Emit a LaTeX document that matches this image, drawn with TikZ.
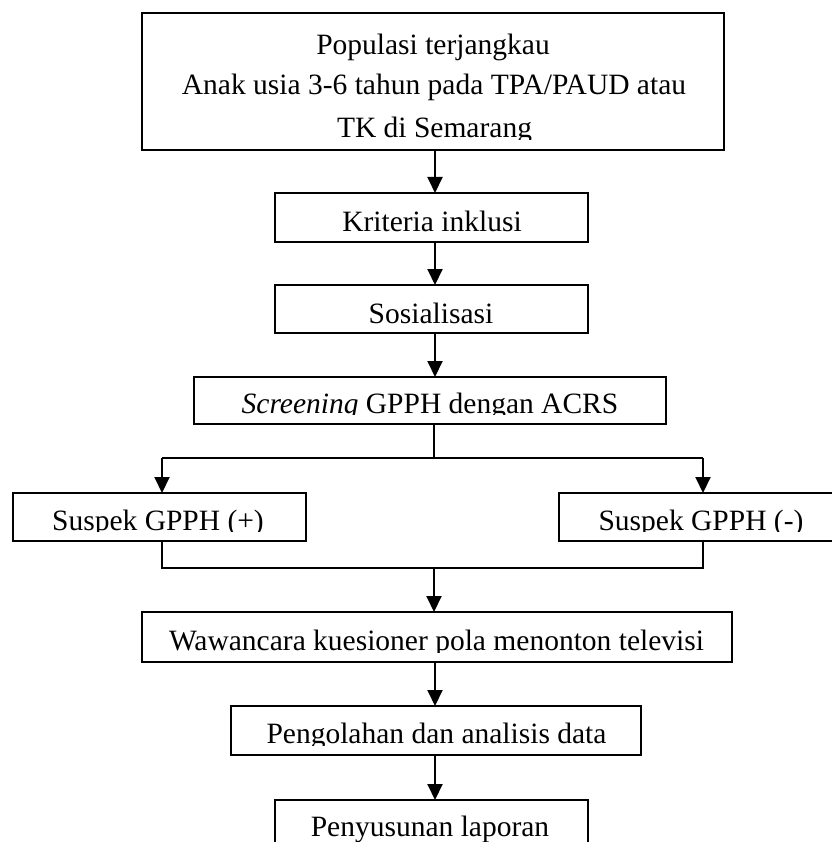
\documentclass[tikz,border=0pt]{standalone}
\usepackage{fontspec}
\setmainfont{Liberation Serif}
\usetikzlibrary{arrows.meta}
\tikzset{
  boxnode/.style={draw=black, line width=1.6pt, inner sep=0pt, outer sep=0pt},
  txt/.style={inner sep=0pt, outer sep=0pt, anchor=base, font=\fontsize{29.5}{35}\selectfont},
  conn/.style={draw=black, line width=2pt},
  thinconn/.style={draw=black, line width=1.3pt},
  arr/.style={conn, -{Triangle[length=16pt,width=15pt]}}
}
\begin{document}
\begin{tikzpicture}[x=1pt,y=-1pt]
\fill[white] (0,0) rectangle (831,842);
\useasboundingbox (0,0) rectangle (831,842);

% boxes
\node[boxnode, minimum width=582pt, minimum height=137pt] (pop) at (433,81.5) {};
\node[boxnode, minimum width=313pt, minimum height=49pt] (krit) at (431.5,217.5) {};
\node[boxnode, minimum width=313pt, minimum height=48pt] (sos) at (431.5,309) {};
\node[boxnode, minimum width=472pt, minimum height=47pt] (scr) at (430,400.5) {};
\node[boxnode, minimum width=293pt, minimum height=48pt] (sp) at (159.5,517) {};
\node[boxnode, minimum width=275pt, minimum height=48pt] (sn) at (696.5,517) {};
\node[boxnode, minimum width=590pt, minimum height=50pt] (waw) at (437,637) {};
\node[boxnode, minimum width=410pt, minimum height=49pt] (peng) at (436,730.5) {};
\node[boxnode, minimum width=313pt, minimum height=46pt] (peny) at (431.5,823) {};

% texts (clipped like the original text boxes)
\begin{scope}
  \clip (142,13) rectangle (724,139.5);
  \node[txt] (t1) at (433,54.5) {Populasi terjangkau};
  \node[txt] (t2) at (434,94.3) {Anak usia 3-6 tahun pada TPA/PAUD atau};
  \node[txt] (t3) at (434.5,137.7) {TK di Semarang};
\end{scope}
\node[txt] (t4) at (432,231.8) {Kriteria inklusi};
\node[txt] (t5) at (431,323) {Sosialisasi};
\begin{scope}
  \clip (194,377) rectangle (666,414.8);
  \node[txt] (t6) at (430,413) {\textit{Screening} GPPH dengan ACRS};
\end{scope}
\begin{scope}
  \clip (13,493) rectangle (306,531.5);
  \node[txt] (t7) at (158,530) {Suspek GPPH (+)};
\end{scope}
\begin{scope}
  \clip (559,493) rectangle (834,531.5);
  \node[txt] (t8) at (701,530) {Suspek GPPH (-)};
\end{scope}
\begin{scope}
  \clip (142,612) rectangle (732,652);
  \node[txt] (t9) at (436.5,650) {Wawancara kuesioner pola menonton televisi};
\end{scope}
\begin{scope}
  \clip (231,706) rectangle (641,745);
  \node[txt] (t10) at (436.5,743.2) {Pengolahan dan analisis data};
\end{scope}
\node[txt] (t11) at (430,836.8) {Penyusunan laporan};

% connector geometry
\coordinate (sx) at (435,0);
\coordinate (jL) at (162,458);
\coordinate (jR) at (703,458);
\coordinate (mL) at (162,568);
\coordinate (mR) at (703,568);
\coordinate (jC) at (434,458);
\coordinate (mC) at (434,568);

\draw[arr] (pop.south -| sx) -- (krit.north -| sx);
\draw[arr] (krit.south -| sx) -- (sos.north -| sx);
\draw[arr] (sos.south -| sx) -- (scr.north -| sx);
\draw[thinconn] (scr.south -| jC) -- (jC);
\draw[conn] (jL) -- (jR);
\draw[arr] (jL) -- (sp.north -| jL);
\draw[arr] (jR) -- (sn.north -| jR);
\draw[conn] (sp.south -| mL) -- (mL) -- (mR) -- (sn.south -| mR);
\draw[arr] (mC) -- (waw.north -| mC);
\draw[arr] (waw.south -| sx) -- (peng.north -| sx);
\draw[arr] (peng.south -| sx) -- (peny.north -| sx);
\end{tikzpicture}
\end{document}
